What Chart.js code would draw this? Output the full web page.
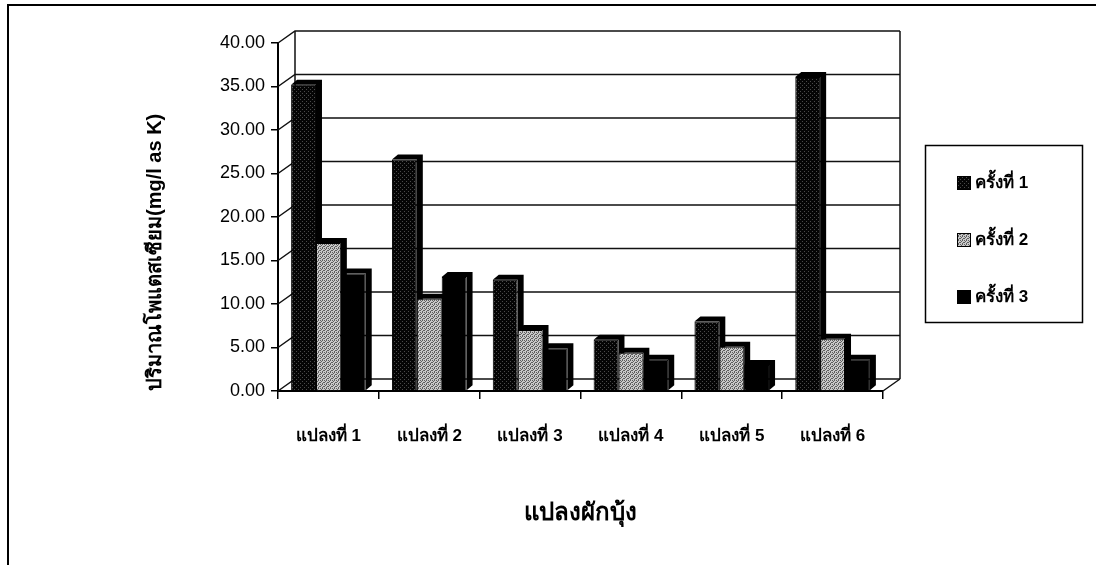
<!DOCTYPE html>
<html>
<head>
<meta charset="utf-8">
<script src="https://cdn.jsdelivr.net/npm/chart.js@4.4.0/dist/chart.umd.min.js"></script>
<style>
  html, body { margin: 0; padding: 0; background: #fff; }
  #wrap { width: 1096px; height: 565px; position: relative; }
</style>
</head>
<body>
<div id="wrap"><canvas id="c" width="1096" height="565"></canvas></div>
<script>
// Potassium content per plot, three sampling rounds
const categories = ['แปลงที่ 1', 'แปลงที่ 2', 'แปลงที่ 3', 'แปลงที่ 4', 'แปลงที่ 5', 'แปลงที่ 6'];
const seriesNames = ['ครั้งที่ 1', 'ครั้งที่ 2', 'ครั้งที่ 3'];
const round1 = [35.2, 26.6, 12.8, 5.9, 8.0, 36.1];
const round2 = [17.0, 10.6, 7.0, 4.4, 5.1, 6.0];
const round3 = [13.5, 13.1, 4.9, 3.6, 3.0, 3.6];
const yMin = 0, yMax = 40, yStep = 5;
const yTitle = 'ปริมาณโพแตสเซียม(mg/l as K)';
const xTitle = 'แปลงผักบุ้ง';

const FONT = "'Liberation Sans', Arial, 'Noto Sans', sans-serif";

// Small fill textures for the bar fronts
function makePattern(cells, colors) {
  const n = cells.length;
  const cv = document.createElement('canvas');
  cv.width = n; cv.height = n;
  const g = cv.getContext('2d');
  for (let r = 0; r < n; r++) {
    for (let c = 0; c < n; c++) {
      g.fillStyle = colors[cells[r][c]];
      g.fillRect(c, r, 1, 1);
    }
  }
  return g.createPattern(cv, 'repeat');
}
const darkFill = makePattern([
  [0,0,0,0],[0,0,1,0],[0,0,0,0],[1,0,0,0]
], ['#050505', '#4a4a4a']);
const greyFill = makePattern([
  [0,1,0,1],[1,0,1,1],[0,1,1,0],[1,1,0,1]
], ['#5e5e5e', '#c8c8c8']);

// Back wall offset for the pseudo-3D frame, and bar depth
const WALL = { dx: 17, dy: -12 };
const DEPTH = { dx: 6, dy: -5 };

const frame3d = {
  id: 'frame3d',
  beforeDatasetsDraw(chart) {
    const { ctx, chartArea: a, scales: { y } } = chart;
    ctx.save();
    ctx.strokeStyle = '#111';
    ctx.lineWidth = 1.5;
    for (let v = yMin; v <= yMax; v += yStep) {
      const py = y.getPixelForValue(v);
      ctx.beginPath();
      ctx.moveTo(a.left, py);
      ctx.lineTo(a.left + WALL.dx, py + WALL.dy);
      ctx.lineTo(a.right + WALL.dx, py + WALL.dy);
      ctx.stroke();
    }
    const top = y.getPixelForValue(yMax), bot = y.getPixelForValue(yMin);
    ctx.beginPath();
    ctx.moveTo(a.left + WALL.dx, top + WALL.dy);
    ctx.lineTo(a.left + WALL.dx, bot + WALL.dy);
    ctx.moveTo(a.right + WALL.dx, top + WALL.dy);
    ctx.lineTo(a.right + WALL.dx, bot + WALL.dy);
    ctx.moveTo(a.right, bot);
    ctx.lineTo(a.right + WALL.dx, bot + WALL.dy);
    ctx.stroke();

    // side and top faces of every bar, drawn before the fronts
    ctx.fillStyle = '#000';
    chart.data.datasets.forEach((ds, i) => {
      const meta = chart.getDatasetMeta(i);
      meta.data.forEach(bar => {
        const p = bar.getProps(['x', 'y', 'base', 'width'], true);
        const l = p.x - p.width / 2, r = p.x + p.width / 2;
        ctx.beginPath();
        ctx.moveTo(l, p.y);
        ctx.lineTo(l + DEPTH.dx, p.y + DEPTH.dy);
        ctx.lineTo(r + DEPTH.dx, p.y + DEPTH.dy);
        ctx.lineTo(r + DEPTH.dx, p.base + DEPTH.dy);
        ctx.lineTo(r, p.base);
        ctx.lineTo(r, p.y);
        ctx.closePath();
        ctx.fill();
      });
    });
    ctx.restore();
  }
};

const boxedLegend = {
  id: 'boxedLegend',
  afterDraw(chart) {
    const { ctx } = chart;
    ctx.save();
    // outer frame of the chart
    ctx.strokeStyle = '#000';
    ctx.lineWidth = 2;
    ctx.beginPath();
    ctx.moveTo(8, 565);
    ctx.lineTo(8, 5);
    ctx.lineTo(1096, 5);
    ctx.stroke();
    // legend box
    ctx.lineWidth = 1.5;
    ctx.strokeRect(925.5, 145.5, 157, 177);
    ctx.font = 'bold 17px ' + FONT;
    ctx.textBaseline = 'middle';
    chart.data.datasets.forEach((ds, i) => {
      const cy = 183 + i * 57;
      ctx.fillStyle = ds.backgroundColor;
      ctx.fillRect(957, cy - 7, 14, 14);
      ctx.strokeStyle = '#000';
      ctx.lineWidth = 1;
      ctx.strokeRect(957.5, cy - 6.5, 13, 13);
      ctx.fillStyle = '#000';
      ctx.fillText(ds.label, 975, cy);
    });
    ctx.restore();
  }
};

new Chart(document.getElementById('c'), {
  type: 'bar',
  data: {
    labels: categories,
    datasets: [
      { label: seriesNames[0], data: round1, backgroundColor: darkFill },
      { label: seriesNames[1], data: round2, backgroundColor: greyFill },
      { label: seriesNames[2], data: round3, backgroundColor: '#000' }
    ]
  },
  options: {
    responsive: false,
    devicePixelRatio: 1,
    animation: false,
    layout: { padding: { left: 0, top: 43, right: 213, bottom: 0 } },
    datasets: {
      bar: { categoryPercentage: 0.74, barPercentage: 1.0, borderColor: '#000', borderWidth: 1 }
    },
    plugins: { legend: { display: false }, tooltip: { enabled: false } },
    scales: {
      x: {
        offset: true,
        grid: { drawOnChartArea: false, offset: true, tickLength: 8, color: '#000', lineWidth: 1.5 },
        border: { display: true, color: '#000', width: 2 },
        ticks: { color: '#000', padding: 27, maxRotation: 0, font: { family: FONT, size: 17, weight: 'bold' } },
        title: { display: true, text: xTitle, color: '#000', padding: { top: 0, bottom: 37 },
                 font: { family: FONT, size: 24, weight: 'bold' } },
        afterFit(s) { s.height = 174; }
      },
      y: {
        min: yMin, max: yMax,
        grid: { drawOnChartArea: false, tickLength: 7, color: '#000', lineWidth: 1.5 },
        border: { display: true, color: '#000', width: 2 },
        ticks: { stepSize: yStep, color: '#000', padding: 6,
                 font: { family: FONT, size: 18 },
                 callback: v => Number(v).toFixed(2) },
        title: { display: true, text: yTitle, color: '#000', align: 'start', padding: { top: 143, bottom: 0 },
                 font: { family: FONT, size: 20, weight: 'bold' } },
        afterFit(s) { s.width = 278; }
      }
    }
  },
  plugins: [frame3d, boxedLegend]
});
</script>
</body>
</html>
